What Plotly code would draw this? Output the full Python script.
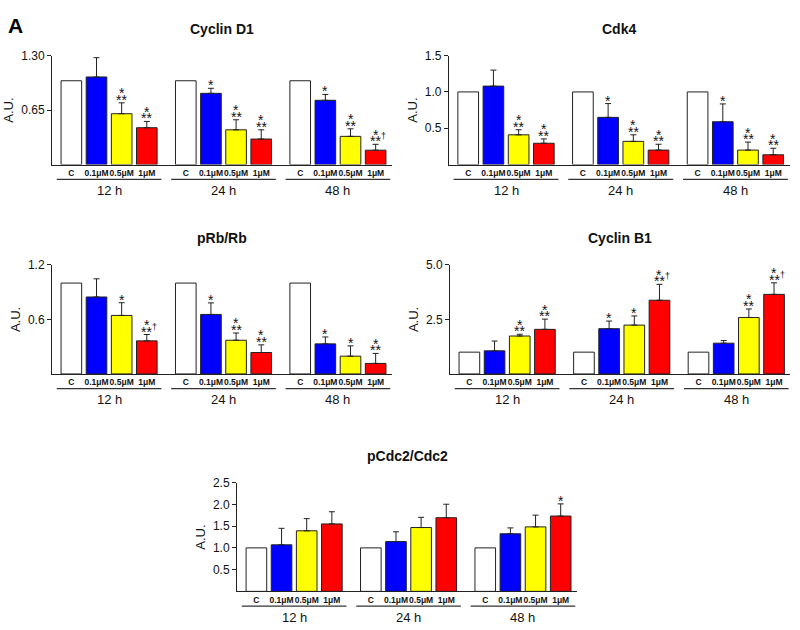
import plotly.graph_objects as go

doses = ["C", "0.1μM", "0.5μM", "1μM"]
times = ["12 h", "24 h", "48 h"]
dose_colors = ["#ffffff", "#0000ff", "#ffff00", "#ff0000"]

panel_titles = ["Cyclin D1", "Cdk4", "pRb/Rb", "Cyclin B1", "pCdc2/Cdc2"]

# 12 values per panel: 12 h (C, 0.1, 0.5, 1 uM), then 24 h, then 48 h
# control bars are normalised to 1 and carry no error bar
cyclin_d1_mean = [1.0, 1.045, 0.607, 0.44, 1.0, 0.85, 0.415, 0.305, 1.0, 0.767, 0.337, 0.172]
cyclin_d1_err = [0, 0.23, 0.13, 0.075, 0, 0.06, 0.12, 0.11, 0, 0.07, 0.09, 0.07]
cyclin_d1_sig = ["", "", "*/**", "*/**", "", "*", "*/**", "*/**", "", "*", "*/**", "*/**†"]

cdk4_mean = [1.0, 1.08, 0.41, 0.294, 1.0, 0.65, 0.32, 0.2, 1.0, 0.59, 0.2, 0.135]
cdk4_err = [0, 0.22, 0.07, 0.06, 0, 0.19, 0.09, 0.08, 0, 0.245, 0.11, 0.09]
cdk4_sig = ["", "", "*/**", "*/**", "", "*", "*/**", "*/**", "", "*", "*/**", "*/**"]

prb_mean = [1.0, 0.847, 0.644, 0.364, 1.0, 0.655, 0.371, 0.236, 1.0, 0.331, 0.196, 0.116]
prb_err = [0, 0.2, 0.14, 0.07, 0, 0.127, 0.08, 0.084, 0, 0.076, 0.113, 0.11]
prb_sig = ["", "", "*", "*/**†", "", "*", "*/**", "*/**", "", "*", "*", "*/**"]

cyclin_b1_mean = [1.0, 1.06, 1.74, 2.045, 1.0, 2.076, 2.24, 3.38, 1.0, 1.41, 2.59, 3.65]
cyclin_b1_err = [0, 0.45, 0.08, 0.47, 0, 0.35, 0.42, 0.73, 0, 0.12, 0.39, 0.53]
cyclin_b1_sig = ["", "", "*/**", "*/**", "", "*", "*", "*/**†", "", "", "*/**", "*/**†"]

pcdc2_mean = [1.0, 1.07, 1.393, 1.551, 1.0, 1.145, 1.468, 1.694, 1.0, 1.325, 1.483, 1.732]
pcdc2_err = [0, 0.38, 0.28, 0.28, 0, 0.225, 0.235, 0.31, 0, 0.135, 0.27, 0.28]
pcdc2_sig = ["", "", "", "", "", "", "", "", "", "", "", "*"]

y_max = [1.30, 1.5, 1.2, 5.0, 2.5]
y_tickvals = [[0.65, 1.30], [0.5, 1.0, 1.5], [0.6, 1.2], [2.5, 5.0], [0.5, 1.0, 1.5, 2.0, 2.5]]
y_ticktext = [["0.65", "1.30"], ["0.5", "1.0", "1.5"], ["0.6", "1.2"], ["2.5", "5.0"],
              ["0.5", "1.0", "1.5", "2.0", "2.5"]]

means = [cyclin_d1_mean, cdk4_mean, prb_mean, cyclin_b1_mean, pcdc2_mean]
errs = [cyclin_d1_err, cdk4_err, prb_err, cyclin_b1_err, pcdc2_err]
sigs = [cyclin_d1_sig, cdk4_sig, prb_sig, cyclin_b1_sig, pcdc2_sig]

# panel placement (paper coords)
dom_x = [(0.065, 0.49), (0.561, 0.987), (0.065, 0.49), (0.5625, 0.988), (0.2963, 0.7213)]
dom_y = [(0.747, 0.922), (0.747, 0.922), (0.411, 0.586), (0.411, 0.586), (0.062, 0.2365)]

FONT = "Arial, Liberation Sans, sans-serif"
GROUP_STEP = 4.55
xpos = [g * GROUP_STEP + j for g in range(len(times)) for j in range(len(doses))]
x_range = [-0.77, 2 * GROUP_STEP + 3 + 0.65]

fig = go.Figure()
annotations = []
shapes = []

for p in range(5):
    sfx = "" if p == 0 else str(p + 1)
    xa, ya = "x" + sfx, "y" + sfx

    # one trace per dose so the control bars get no error bar
    for j, dose in enumerate(doses):
        err = None
        if j > 0:
            err = dict(type="data", symmetric=False, array=errs[p][j::4],
                       arrayminus=[0] * 3, color="#222222", thickness=1, width=3)
        fig.add_trace(go.Bar(
            x=xpos[j::4], y=means[p][j::4], name=dose,
            width=0.82,
            marker=dict(color=dose_colors[j], line=dict(color="#222222", width=1)),
            error_y=err,
            xaxis=xa, yaxis=ya, showlegend=False, hoverinfo="skip",
        ))

    fig.layout["xaxis" + sfx] = dict(
        domain=dom_x[p], anchor=ya, range=x_range,
        showline=True, linecolor="#222222", linewidth=1,
        showgrid=False, zeroline=False, ticks="", tickangle=0,
        tickvals=xpos, ticktext=doses * 3,
        tickfont=dict(family=FONT, size=8.5, color="#111111", weight="bold"),
    )
    fig.layout["yaxis" + sfx] = dict(
        domain=dom_y[p], anchor=xa, range=[0, y_max[p]],
        showline=True, linecolor="#222222", linewidth=1,
        showgrid=False, zeroline=False,
        ticks="outside", ticklen=4, tickcolor="#222222",
        tickvals=y_tickvals[p], ticktext=y_ticktext[p],
        tickfont=dict(family=FONT, size=12, color="#111111"),
        title=dict(text="A.U.", font=dict(family=FONT, size=13, color="#111111"), standoff=4),
    )

    # panel title
    annotations.append(dict(
        text="<b>%s</b>" % panel_titles[p], xref=xa + " domain", yref=ya + " domain",
        x=0.5, y=1, yshift=27, showarrow=False, yanchor="middle",
        font=dict(family=FONT, size=14, color="#111111"),
    ))

    # time-group underline and label
    for g, t in enumerate(times):
        x0 = g * GROUP_STEP
        shapes.append(dict(
            type="line", xref=xa, yref=ya + " domain",
            x0=x0 - 0.58, x1=x0 + 3.58, y0=-0.135, y1=-0.135,
            line=dict(color="#333333", width=1.3),
        ))
        annotations.append(dict(
            text=t, xref=xa, yref=ya + " domain", x=x0 + 1.5, y=0, yshift=-26,
            showarrow=False, yanchor="middle",
            font=dict(family=FONT, size=13, color="#111111"),
        ))

    # significance marks
    for i, s in enumerate(sigs[p]):
        if not s:
            continue
        top = means[p][i] + errs[p][i]
        rows = s.split("/")[::-1]
        for r, row in enumerate(rows):
            dagger = row.endswith("†")
            row = row.rstrip("†")
            annotations.append(dict(
                text=row, xref=xa, yref=ya, x=xpos[i], y=top,
                yshift=3 + 6.5 * r, showarrow=False, yanchor="middle",
                font=dict(family=FONT, size=14, color="#111111"),
            ))
            if dagger:
                annotations.append(dict(
                    text="†", xref=xa, yref=ya, x=xpos[i], y=top,
                    xshift=8, yshift=8 + 6.5 * r, showarrow=False, yanchor="middle",
                    font=dict(family=FONT, size=9, color="#111111"),
                ))

annotations.append(dict(
    text="<b>A</b>", xref="paper", yref="paper", x=0.008, y=0.97,
    xanchor="left", yanchor="middle", showarrow=False,
    font=dict(family=FONT, size=21, color="#000000"),
))

fig.update_layout(
    width=800, height=630,
    margin=dict(l=0, r=0, t=0, b=0),
    paper_bgcolor="white", plot_bgcolor="white",
    annotations=annotations, shapes=shapes,
    showlegend=False, barmode="overlay",
)

fig.write_html("out.html", config={"displayModeBar": False},
               post_script="document.body.style.margin='0px';")
